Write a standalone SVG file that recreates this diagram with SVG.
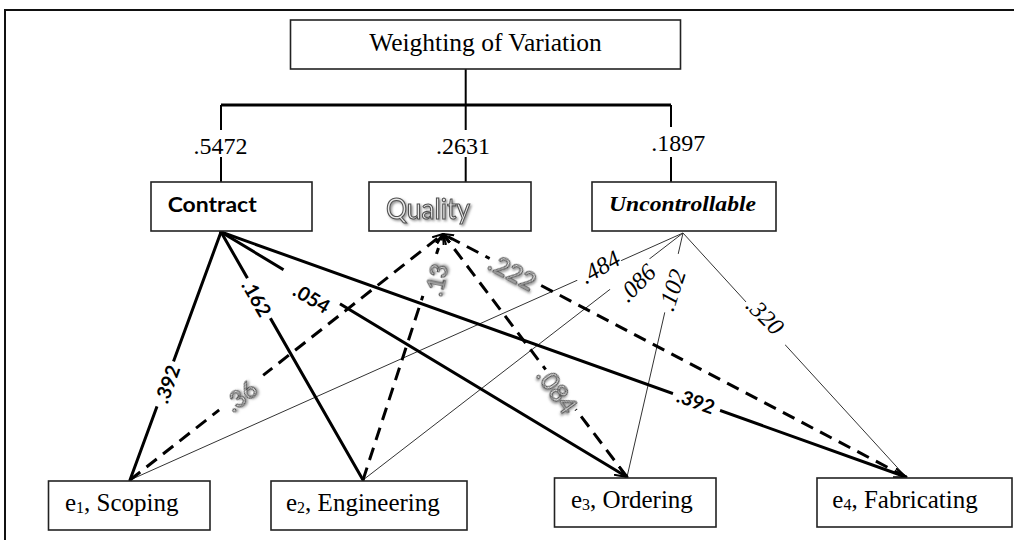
<svg xmlns="http://www.w3.org/2000/svg" width="1014" height="540" viewBox="0 0 1014 540">
<defs>
<style>
.box{fill:#fff;stroke:#222;stroke-width:1.6}
.tr{font-family:"Liberation Serif","Times New Roman",serif;fill:#000}
.trunk{stroke:#000;stroke-width:2;fill:none}
.solid{stroke:#000;stroke-width:3;fill:none;stroke-linecap:round}
.dash{stroke:#000;stroke-width:3;fill:none;stroke-dasharray:13 8}
.thin{stroke:#333;stroke-width:1;fill:none}
.gap{fill:#fff}
.cl{font-family:Lato,"Open Sans",sans-serif;font-weight:bold;font-size:19.5px;fill:#000}
.ql{font-family:Lato,"Open Sans",sans-serif;fill:#e8e8e8;stroke:#505050;stroke-width:1.1;filter:url(#sh)}
.ul{font-family:"Liberation Serif","Times New Roman",serif;font-style:italic;font-size:24px;fill:#000}
</style>
<filter id="sh" x="-20%" y="-20%" width="150%" height="150%">
<feDropShadow dx="1.5" dy="1.5" stdDeviation="0.8" flood-color="#777" flood-opacity="0.8"/>
</filter>
<marker id="arr" viewBox="0 0 12 10" refX="11.5" refY="5" markerWidth="13" markerHeight="11" markerUnits="userSpaceOnUse" orient="auto">
<path d="M0,0.5 L11.5,5 L0,9.5" fill="none" stroke="#000" stroke-width="2"/>
</marker>
<marker id="arrq" viewBox="0 0 12 10" refX="11.5" refY="5" markerWidth="11" markerHeight="10" markerUnits="userSpaceOnUse" orient="auto">
<path d="M0,0.5 L11.5,5 L0,9.5" fill="none" stroke="#000" stroke-width="2.2"/>
</marker>
</defs>
<rect x="0" y="0" width="1014" height="540" fill="#fff"/>
<rect x="5" y="10" width="1030" height="550" fill="none" stroke="#111" stroke-width="2"/>

<g id="connectors">
<g id="hierarchy">
<line class="trunk" x1="465.7" y1="69" x2="465.7" y2="105"/>
<line x1="221" y1="105" x2="671" y2="105" stroke="#000" stroke-width="3"/>
<line class="trunk" x1="221" y1="105" x2="221" y2="130"/>
<line class="trunk" x1="221" y1="157" x2="221" y2="182"/>
<line class="trunk" x1="465.7" y1="105" x2="465.7" y2="130"/>
<line class="trunk" x1="465.7" y1="157" x2="465.7" y2="182"/>
<line class="trunk" x1="671" y1="105" x2="671" y2="127"/>
<line class="trunk" x1="671" y1="157" x2="671" y2="182"/>
</g>
<g id="uncontrollable-links">
<line class="thin" x1="683" y1="233" x2="130" y2="480"/>
<line class="thin" x1="683" y1="233" x2="363" y2="480"/>
<line class="thin" x1="683" y1="233" x2="627" y2="477"/>
<line class="thin" x1="683" y1="233" x2="906" y2="477" stroke="#555"/>
</g>
<g id="quality-links">
<line class="dash" x1="130" y1="480" x2="443" y2="234" marker-end="url(#arrq)"/>
<line class="dash" x1="363" y1="480" x2="443" y2="234" marker-end="url(#arrq)"/>
<line class="dash" x1="627" y1="477" x2="443" y2="234" marker-end="url(#arrq)"/>
<line class="dash" x1="906" y1="477" x2="443" y2="234" marker-end="url(#arrq)"/>
</g>
<g id="contract-links">
<line class="solid" x1="221" y1="232" x2="130" y2="480"/>
<line class="solid" x1="221" y1="232" x2="363" y2="480"/>
<line class="solid" x1="221" y1="232" x2="627" y2="477" marker-end="url(#arr)"/>
<line class="solid" x1="221" y1="232" x2="906" y2="477" marker-end="url(#arr)"/>
</g>
</g>

<g id="label-gaps">
<rect class="gap" x="-24" y="-5" width="48" height="10" transform="translate(165.5,384) rotate(-70)"/>
<rect class="gap" x="-23" y="-5" width="46" height="10" transform="translate(257.5,299) rotate(60)"/>
<rect class="gap" x="-33" y="-5" width="66" height="10" transform="translate(311,288) rotate(31.1)"/>
<rect class="gap" x="-25" y="-5" width="50" height="10" transform="translate(696.5,402) rotate(19.7)"/>
<rect class="gap" x="-28" y="-5" width="56" height="10" transform="translate(241,392.4) rotate(-38.3)"/>
<rect class="gap" x="-22" y="-5" width="44" height="10" transform="translate(430,275) rotate(-72)"/>
<rect class="gap" x="-25" y="-5" width="50" height="10" transform="translate(560,390) rotate(53.1)"/>
<rect class="gap" x="-26" y="-5" width="52" height="10" transform="translate(513,270) rotate(27.8)"/>
<rect class="gap" x="-24" y="-4" width="48" height="8" transform="translate(599,270) rotate(-24.1)"/>
<rect class="gap" x="-25" y="-4" width="50" height="8" transform="translate(629,273) rotate(-37.7)"/>
<rect class="gap" x="-30" y="-4" width="60" height="8" transform="translate(671,283) rotate(-77)"/>
<rect class="gap" x="-29" y="-4" width="58" height="8" transform="translate(766,323) rotate(47.6)"/>
</g>

<g id="labels">
<text class="cl" text-anchor="middle" dominant-baseline="central" transform="translate(167,384) rotate(-70)">.392</text>
<text class="cl" text-anchor="middle" dominant-baseline="central" transform="translate(257,298) rotate(60)">.162</text>
<text class="cl" text-anchor="middle" dominant-baseline="central" transform="translate(312,298) rotate(31)">.054</text>
<text class="cl" text-anchor="middle" dominant-baseline="central" transform="translate(696,401) rotate(20)">.392</text>
<text class="ql" font-size="24" text-anchor="middle" dominant-baseline="central" transform="translate(240,395) rotate(-38)">.36</text>
<text class="ql" font-size="23" text-anchor="middle" dominant-baseline="central" transform="translate(436,280) rotate(-78)">.13</text>
<text class="ql" font-size="25" text-anchor="middle" dominant-baseline="central" transform="translate(558,390) rotate(55)">.084</text>
<text class="ql" font-size="25" text-anchor="middle" dominant-baseline="central" transform="translate(513,271) rotate(28)">.222</text>
<text class="ul" text-anchor="middle" dominant-baseline="central" transform="translate(600,267) rotate(-30)">.484</text>
<text class="ul" text-anchor="middle" dominant-baseline="central" transform="translate(637,283) rotate(-45)">.086</text>
<text class="ul" text-anchor="middle" dominant-baseline="central" transform="translate(672,290) rotate(-72)">.102</text>
<text class="ul" text-anchor="middle" dominant-baseline="central" transform="translate(765,316) rotate(45)">.320</text>
<text class="tr" font-size="24" x="220.5" y="154" text-anchor="middle">.5472</text>
<text class="tr" font-size="24" x="463" y="154" text-anchor="middle">.2631</text>
<text class="tr" font-size="24" x="678.3" y="151" text-anchor="middle">.1897</text>
</g>

<g id="node-weighting">
<rect class="box" x="290.5" y="20" width="390" height="49"/>
<text class="tr" font-size="25.5" x="485.5" y="51" text-anchor="middle">Weighting of Variation</text>
</g>
<g id="node-contract">
<rect class="box" x="151" y="182" width="161" height="49"/>
<text x="167.7" y="211.7" font-family="Lato,'Open Sans',sans-serif" font-weight="bold" font-size="21" textLength="89" lengthAdjust="spacingAndGlyphs" fill="#000">Contract</text>
</g>
<g id="node-quality">
<rect class="box" x="369" y="182" width="162" height="49"/>
<text class="ql" x="386" y="219" font-size="28" textLength="84" lengthAdjust="spacingAndGlyphs">Quality</text>
</g>
<g id="node-uncontrollable">
<rect class="box" x="592" y="182" width="184" height="49"/>
<text x="609" y="211" font-family="'Liberation Serif','Times New Roman',serif" font-style="italic" font-weight="bold" font-size="22" textLength="147" lengthAdjust="spacingAndGlyphs" fill="#000">Uncontrollable</text>
</g>
<g id="node-e1">
<rect class="box" x="48.5" y="481" width="161.5" height="49"/>
<text class="tr" font-size="25" x="65" y="511">e<tspan font-size="16" dy="1.5">1</tspan><tspan dy="-1.5">, Scoping</tspan></text>
</g>
<g id="node-e2">
<rect class="box" x="271" y="481" width="196" height="49"/>
<text class="tr" font-size="25" x="286" y="511">e<tspan font-size="16" dy="1.5">2</tspan><tspan dy="-1.5">, Engineering</tspan></text>
</g>
<g id="node-e3">
<rect class="box" x="554.5" y="478" width="161.5" height="49"/>
<text class="tr" font-size="25" x="571" y="508">e<tspan font-size="16" dy="1.5">3</tspan><tspan dy="-1.5">, Ordering</tspan></text>
</g>
<g id="node-e4">
<rect class="box" x="817" y="478" width="195" height="49"/>
<text class="tr" font-size="25" x="832.3" y="508">e<tspan font-size="16" dy="1.5">4</tspan><tspan dy="-1.5">, Fabricating</tspan></text>
</g>
</svg>
